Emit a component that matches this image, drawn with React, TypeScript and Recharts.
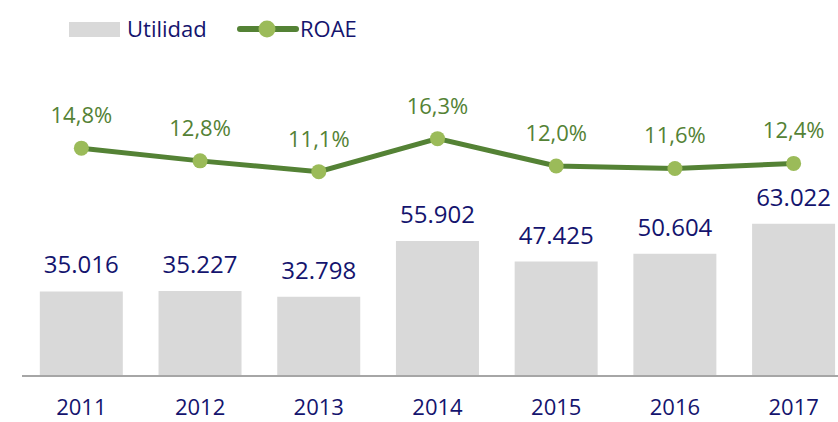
import { ComposedChart, Bar, Line, XAxis, YAxis, LabelList } from 'recharts';

const years = ['2011', '2012', '2013', '2014', '2015', '2016', '2017'];
const utilidad = [35016, 35227, 32798, 55902, 47425, 50604, 63022];
const roae = [14.8, 12.8, 11.1, 16.3, 12.0, 11.6, 12.4];

const navy = '#14146e';
const green = '#548235';
const lightGreen = '#9bbb59';
const barGrey = '#d9d9d9';
const font = '"Open Sans", sans-serif';

const data = years.map((year, i) => ({ year, utilidad: utilidad[i], roae: roae[i] }));

const formatThousands = (v: number) => String(v).replace(/\B(?=(\d{3})+(?!\d))/g, '.');
const formatPct = (v: number) => v.toFixed(1).replace('.', ',') + '%';

function ChartLegend() {
  return (
    <svg width={400} height={50} style={{ position: 'absolute', left: 0, top: 0 }}>
      <rect x={69} y={22} width={51} height={15} fill={barGrey} />
      <text x={127} y={36.5} fill={navy} fontSize={22} fontFamily={font}>Utilidad</text>
      <line x1={240} y1={29} x2={296} y2={29} stroke={green} strokeWidth={6} strokeLinecap="round" />
      <circle cx={267} cy={29} r={8.5} fill={lightGreen} />
      <text x={300} y={36.5} fill={navy} fontSize={22} fontFamily={font}>ROAE</text>
    </svg>
  );
}

export default function App() {
  return (
    <div style={{ position: 'absolute', left: 0, top: 0, width: 838, height: 422, overflow: 'hidden', background: '#fff' }}>
      <ComposedChart
        width={853}
        height={422}
        data={data}
        margin={{ top: 38, right: 0, bottom: 0, left: 22 }}
        barCategoryGap="15%"
      >
        <XAxis
          dataKey="year"
          height={46}
          tickLine={false}
          tickSize={0}
          tickMargin={23}
          axisLine={{ stroke: '#a6a6a6', strokeWidth: 2 }}
          tick={{ fill: navy, fontSize: 22, fontFamily: font }}
          interval={0}
        />
        <YAxis yAxisId="left" hide domain={[0, 140000]} />
        <YAxis yAxisId="right" hide orientation="right" domain={[-21.1, 32.16]} allowDataOverflow />
        <Bar yAxisId="left" dataKey="utilidad" fill={barGrey} isAnimationActive={false}>
          <LabelList
            dataKey="utilidad"
            position="top"
            offset={18}
            formatter={(v: any) => formatThousands(Number(v))}
            fill={navy}
            fontSize={24}
            fontFamily={font}
          />
        </Bar>
        <Line
          yAxisId="right"
          dataKey="roae"
          stroke={green}
          strokeWidth={5}
          dot={{ r: 7.5, fill: lightGreen, stroke: 'none' }}
          activeDot={false}
          isAnimationActive={false}
        >
          <LabelList
            dataKey="roae"
            position="top"
            offset={25}
            formatter={(v: any) => formatPct(Number(v))}
            fill={green}
            fontSize={22}
            fontFamily={font}
          />
        </Line>
      </ComposedChart>
      <ChartLegend />
    </div>
  );
}
